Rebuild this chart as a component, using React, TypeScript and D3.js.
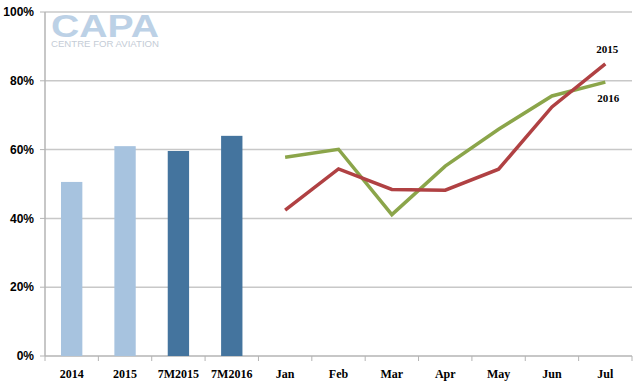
import React from 'react';
import * as d3 from 'd3';

const categories = ['2014', '2015', '7M2015', '7M2016', 'Jan', 'Feb', 'Mar', 'Apr', 'May', 'Jun', 'Jul'];
const barCats = ['2014', '2015', '7M2015', '7M2016'];
const barValues = [50.6, 61, 59.6, 64];
const barColors = ['#a7c3df', '#a7c3df', '#44749e', '#44749e'];
const months = ['Jan', 'Feb', 'Mar', 'Apr', 'May', 'Jun', 'Jul'];
const series2015 = [42.4, 54.4, 48.4, 48.2, 54.3, 72.4, 84.9];
const series2016 = [57.8, 60.1, 41.1, 55.2, 65.9, 75.6, 79.6];
const yTicks = [0, 20, 40, 60, 80, 100];

const W = 644;
const H = 386;
const margin = { top: 12, right: 12, bottom: 30, left: 45 };

export default function App() {
  const innerW = W - margin.left - margin.right;
  const innerH = H - margin.top - margin.bottom;

  const x = d3.scaleBand<string>().domain(categories).range([0, innerW]).paddingInner(0).paddingOuter(0);
  const y = d3.scaleLinear().domain([0, 100]).range([innerH, 0]);
  const barW = x.bandwidth() * 0.4;
  const cx = (c: string) => (x(c) ?? 0) + x.bandwidth() / 2;

  const line = d3.line<number>()
    .x((_, i) => cx(months[i]))
    .y(d => y(d));

  const tickXs = categories.map(c => x(c) ?? 0).concat([innerW]);

  return (
    <svg width={W} height={H} style={{ position: 'absolute', left: 0, top: 0, background: '#fff' }}>
      <g transform={`translate(${margin.left},${margin.top})`}>
        {/* gridlines */}
        {yTicks.filter(t => t > 0).map(t => (
          <line key={t} x1={0} x2={innerW} y1={y(t)} y2={y(t)} stroke="#c8c8c8" strokeWidth={1.5} />
        ))}
        {/* watermark */}
        <text x={6} y={25} fill="#bcd1e6" fontFamily="Arial, 'Liberation Sans', sans-serif" fontWeight="bold"
          fontSize={31} textLength={108} lengthAdjust="spacingAndGlyphs">CAPA</text>
        <text x={6} y={35} fill="#c4ccd6" fontFamily="Arial, 'Liberation Sans', sans-serif"
          fontSize={8.5} textLength={108} lengthAdjust="spacingAndGlyphs">CENTRE FOR AVIATION</text>
        {/* axes */}
        <line x1={0} x2={0} y1={0} y2={innerH} stroke="#b4b4b4" strokeWidth={1.5} />
        <line x1={0} x2={innerW} y1={innerH} y2={innerH} stroke="#b4b4b4" strokeWidth={1.5} />
        {yTicks.map(t => (
          <g key={t}>
            <line x1={-5} x2={0} y1={y(t)} y2={y(t)} stroke="#b4b4b4" strokeWidth={1} />
            <text x={-11} y={y(t)} dy="0.35em" textAnchor="end" fontFamily="Arial, 'Liberation Sans', sans-serif"
              fontWeight="bold" fontSize={12} fill="#000">{t}%</text>
          </g>
        ))}
        {tickXs.map((tx, i) => (
          <line key={i} x1={tx} x2={tx} y1={innerH} y2={innerH + 5} stroke="#b4b4b4" strokeWidth={1} />
        ))}
        {categories.map(c => (
          <text key={c} x={cx(c)} y={innerH + 22} textAnchor="middle" fontFamily="'Liberation Serif', 'DejaVu Serif', serif"
            fontWeight="bold" fontSize={12} fill="#000">{c}</text>
        ))}
        {/* bars */}
        {barCats.map((c, i) => (
          <rect key={c} x={cx(c) - barW / 2} y={y(barValues[i])} width={barW} height={innerH - y(barValues[i])}
            fill={barColors[i]} />
        ))}
        {/* lines */}
        <path d={line(series2016) ?? ''} fill="none" stroke="#8ba54a" strokeWidth={3.5} strokeLinejoin="miter" />
        <path d={line(series2015) ?? ''} fill="none" stroke="#b04143" strokeWidth={3.5} strokeLinejoin="miter" />
        <text x={cx('Jul') + 2} y={y(series2015[6]) - 11} textAnchor="middle" fontFamily="'Liberation Serif', serif"
          fontWeight="bold" fontSize={11} fill="#000">2015</text>
        <text x={cx('Jul') + 3} y={y(series2016[6]) + 20} textAnchor="middle" fontFamily="'Liberation Serif', serif"
          fontWeight="bold" fontSize={11} fill="#000">2016</text>
      </g>
    </svg>
  );
}
